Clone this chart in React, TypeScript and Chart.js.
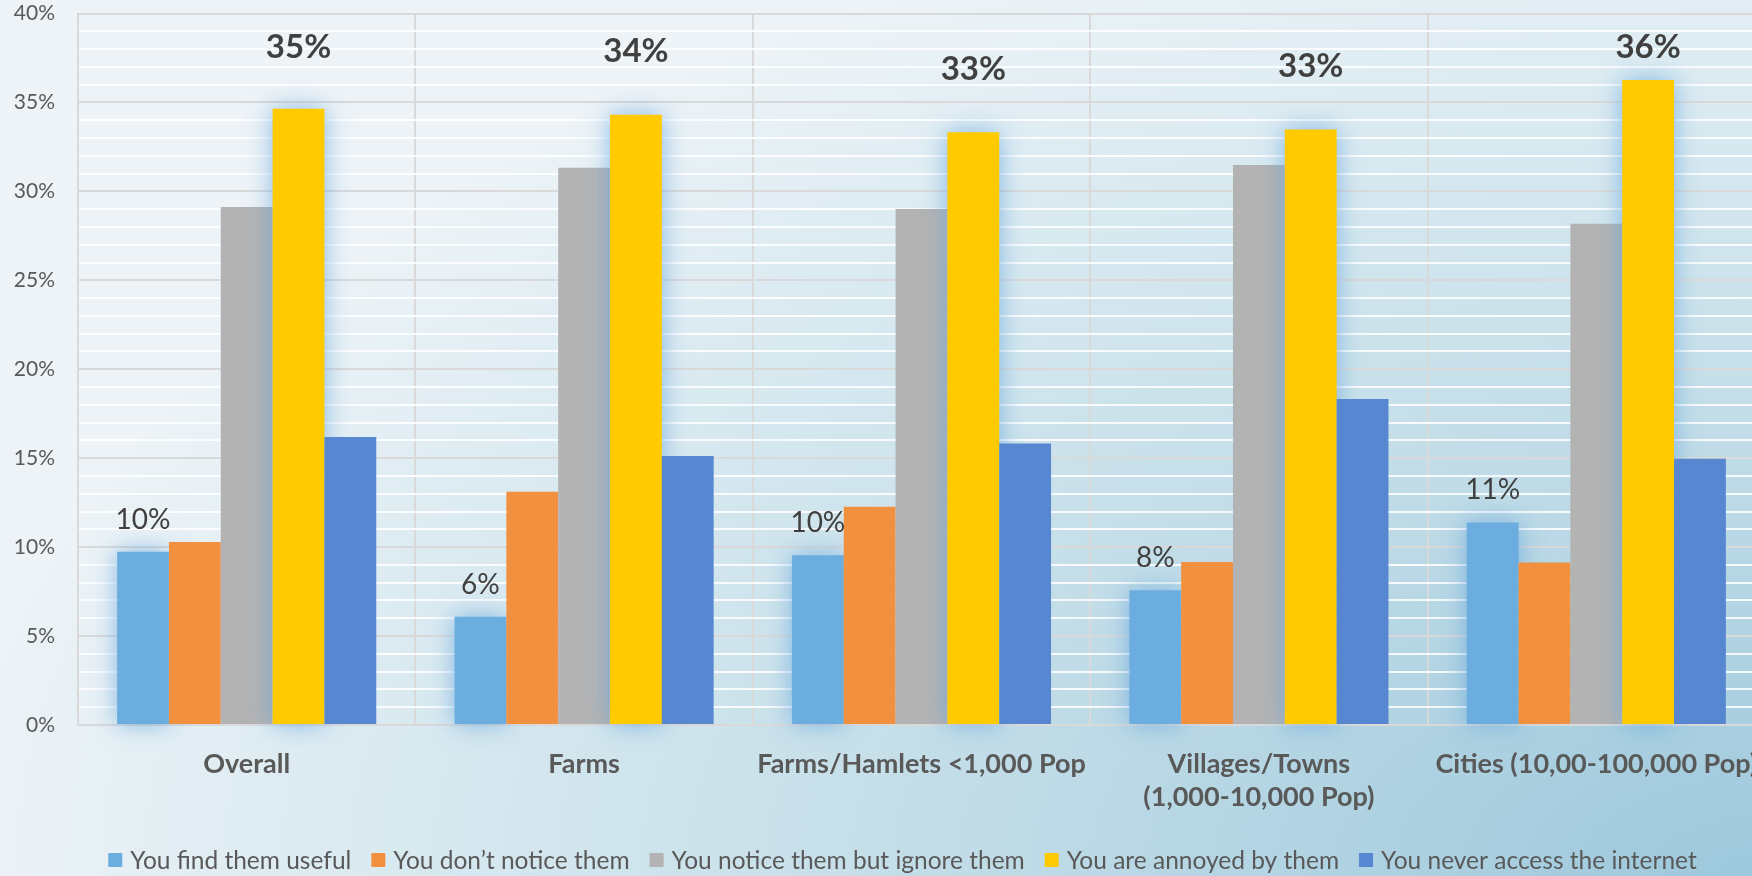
import React, { useEffect, useRef } from 'react';
import { Chart, registerables } from 'chart.js';

Chart.register(...registerables);

// ---------- data ----------
const categories: (string | string[])[] = [
  'Overall',
  'Farms',
  'Farms/Hamlets <1,000 Pop',
  ['Villages/Towns', '(1,000-10,000 Pop)'],
  'Cities (10,00-100,000 Pop)',
];
const seriesNames = [
  'You find them useful',
  'You don\u2019t notice them',
  'You notice them but ignore them',
  'You are annoyed by them',
  'You never access the internet',
];
const useful = [9.74, 6.09, 9.54, 7.57, 11.39];
const dontNotice = [10.29, 13.12, 12.27, 9.16, 9.14];
const ignoreThem = [29.12, 31.33, 29.01, 31.48, 28.18];
const annoyed = [34.64, 34.31, 33.33, 33.48, 36.26];
const neverAccess = [16.19, 15.13, 15.82, 18.33, 14.97];
const yMax = 40;
const yMinorStep = 1;
const yMajorStep = 5;

// ---------- style ----------
const FONT = "Lato, 'Open Sans', sans-serif";
const seriesColors = ['#6caddf', '#f1913f', '#b3b3b3', '#ffca00', '#5687d0'];
const GLOW_SERIES = [0, 3];
const VIEW_W = 1752;
const VIEW_H = 876;
const CANVAS_W = 1766;
const PLOT_LEFT = 78;
const PLOT_TOP = 13.5;
const X_AXIS_H = 151;
const LEGEND_CENTER_X = 902.5;
const LEGEND_BASELINE_FROM_BOTTOM = 7;
const LEGEND_FONT = 24.5;
const TRANSPARENT = 'rgba(0,0,0,0)';

const bgPlugin = {
  id: 'bgGradient',
  beforeDraw(chart: any) {
    const ctx = chart.ctx as CanvasRenderingContext2D;
    ctx.save();
    ctx.translate(VIEW_W, VIEW_H);
    ctx.scale(1800, 1000);
    const g = ctx.createRadialGradient(0, 0, 0, 0, 0, 1);
    g.addColorStop(0, '#9dc8dc');
    g.addColorStop(0.5, '#c6dfe9');
    g.addColorStop(0.85, '#e0edf3');
    g.addColorStop(1, '#edf3f7');
    ctx.fillStyle = g;
    ctx.fillRect(-3, -3, 4, 4);
    ctx.restore();
  },
};

// draw series in index order (first series at the back), with a soft glow on highlighted series
const orderedDrawPlugin = {
  id: 'orderedDraw',
  beforeDatasetsDraw(chart: any) {
    const ctx = chart.ctx as CanvasRenderingContext2D;
    const n = chart.data.datasets.length;
    for (let i = 0; i < n; i++) {
      const meta = chart.getDatasetMeta(i);
      if (!meta || meta.hidden) continue;
      ctx.save();
      if (GLOW_SERIES.includes(i)) {
        ctx.shadowColor = 'rgba(100,165,220,0.75)';
        ctx.shadowBlur = 24;
        ctx.shadowOffsetX = 0;
        ctx.shadowOffsetY = 0;
      }
      meta.controller.draw();
      ctx.restore();
    }
    return false;
  },
};

const labelAndLegendPlugin = {
  id: 'labelsLegend',
  afterDraw(chart: any) {
    const ctx = chart.ctx as CanvasRenderingContext2D;
    ctx.save();
    // value labels
    ctx.textAlign = 'center';
    ctx.textBaseline = 'middle';
    ctx.fillStyle = '#404040';
    ctx.font = `28px ${FONT}`;
    chart.getDatasetMeta(0).data.forEach((bar: any, j: number) => {
      ctx.fillText(Math.round(useful[j]) + '%', bar.x, bar.y - 32);
    });
    ctx.font = `bold 33px ${FONT}`;
    chart.getDatasetMeta(3).data.forEach((bar: any, j: number) => {
      const y = Math.max(bar.y - 63, chart.chartArea.top + 34);
      ctx.fillText(Math.round(annoyed[j]) + '%', bar.x, y);
    });

    // legend
    ctx.font = `${LEGEND_FONT}px ${FONT}`;
    ctx.textAlign = 'left';
    ctx.textBaseline = 'alphabetic';
    const box = 14;
    const boxGap = 8;
    const itemGap = 20;
    const widths = seriesNames.map((s) => ctx.measureText(s).width);
    const total =
      widths.reduce((a, b) => a + b, 0) + seriesNames.length * (box + boxGap) + (seriesNames.length - 1) * itemGap;
    let x = LEGEND_CENTER_X - total / 2;
    const baseline = chart.height - LEGEND_BASELINE_FROM_BOTTOM;
    seriesNames.forEach((s, i) => {
      ctx.fillStyle = seriesColors[i];
      ctx.fillRect(x, baseline - 16, box, box);
      x += box + boxGap;
      ctx.fillStyle = '#595959';
      ctx.fillText(s, x, baseline);
      x += widths[i] + itemGap;
    });
    ctx.restore();
  },
};

export default function App() {
  const ref = useRef<HTMLCanvasElement>(null);

  useEffect(() => {
    const canvas = ref.current;
    if (!canvas) return;
    const values = [useful, dontNotice, ignoreThem, annoyed, neverAccess];
    const chart = new Chart(canvas, {
      type: 'bar',
      data: {
        labels: categories as any,
        datasets: values.map((v, i) => ({
          label: seriesNames[i],
          data: v,
          backgroundColor: seriesColors[i],
          borderWidth: 0,
          categoryPercentage: 0.768,
          barPercentage: 1,
        })),
      },
      options: {
        responsive: false,
        animation: false,
        devicePixelRatio: 1,
        layout: { autoPadding: false, padding: { left: 0, right: 1, top: PLOT_TOP, bottom: 0 } },
        plugins: {
          tooltip: { enabled: false },
          legend: { display: false },
        },
        scales: {
          x: {
            offset: true,
            grid: {
              color: '#d9d9d9',
              lineWidth: 2,
              drawTicks: true,
              tickLength: 23,
              tickColor: TRANSPARENT,
              offset: true,
            },
            border: { color: '#d9d9d9', width: 2 },
            ticks: {
              color: '#595959',
              font: { family: FONT, size: 27, weight: 'bold', lineHeight: 1.22 },
              padding: 0,
              maxRotation: 0,
              minRotation: 0,
              autoSkip: false,
            },
            afterFit: (scale: any) => {
              scale.height = X_AXIS_H;
            },
          },
          y: {
            min: 0,
            max: yMax,
            grid: {
              drawTicks: true,
              tickLength: 23,
              tickColor: TRANSPARENT,
              lineWidth: 2,
              color: (ctx: any) =>
                ctx.tick && ctx.tick.value % yMajorStep === 0 ? '#d9d9d9' : 'rgba(255,255,255,0.85)',
            },
            border: { color: '#d9d9d9', width: 2 },
            ticks: {
              stepSize: yMinorStep,
              autoSkip: false,
              padding: 0,
              color: '#595959',
              font: { family: FONT, size: 21 },
              callback: (v: any) => (Number(v) % yMajorStep === 0 ? `${v}%` : ''),
            },
            afterFit: (scale: any) => {
              scale.width = PLOT_LEFT;
            },
          },
        },
      },
      plugins: [bgPlugin, orderedDrawPlugin, labelAndLegendPlugin],
    });
    return () => chart.destroy();
  }, []);

  return (
    <div
      style={{
        position: 'fixed',
        left: 0,
        top: 0,
        width: VIEW_W,
        height: VIEW_H,
        overflow: 'hidden',
      }}
    >
      <canvas
        ref={ref}
        width={CANVAS_W}
        height={VIEW_H}
        style={{ display: 'block', width: CANVAS_W, height: VIEW_H }}
      />
    </div>
  );
}
